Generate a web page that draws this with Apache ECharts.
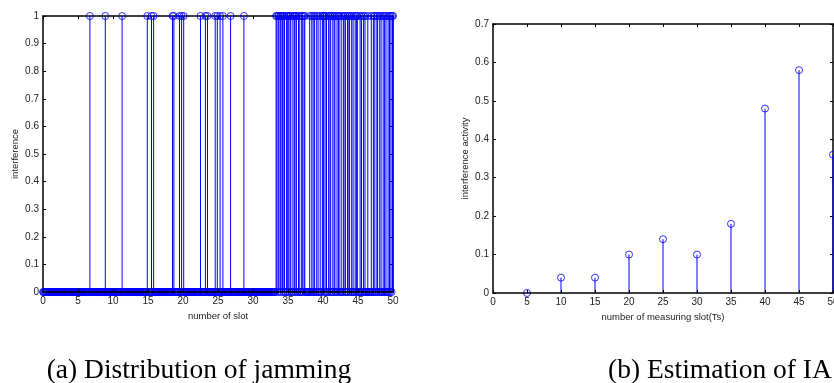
<!DOCTYPE html>
<html>
<head>
<meta charset="utf-8">
<script src="https://cdn.jsdelivr.net/npm/echarts@6/dist/echarts.min.js"></script>
<style>
  html, body { margin: 0; padding: 0; background: #fff; }
  #chart { width: 834px; height: 383px; }
</style>
</head>
<body>
<div id="chart"></div>
<script>
// (a) slots where jamming is present (value 1); every other slot on the 0.1 grid is 0
const jamSlots = [
  6.7, 8.9, 11.3, 14.9, 15.5, 15.8, 18.5, 18.7, 19.5, 19.8, 20.1, 22.5, 23.2, 23.5,
  24.6, 24.9, 25.3, 25.7, 26.8, 28.7,
  33.3, 33.4, 33.6, 33.7, 33.9, 34.0, 34.2, 34.3, 34.5, 34.8, 34.9, 35.1, 35.3, 35.4,
  35.7, 35.9, 36.0, 36.2, 36.5, 36.6, 36.9, 37.1, 37.3, 37.4, 38.1, 38.4, 38.6, 38.8,
  39.1, 39.3, 39.6, 39.9, 40.0, 40.1, 40.3, 40.5, 40.8, 41.0, 41.1, 41.4, 41.6, 41.7,
  42.0, 42.2, 42.3, 42.6, 42.9, 43.0, 43.2, 43.5, 43.7, 43.8, 44.1, 44.3, 44.6, 44.8,
  44.9, 45.3, 45.5, 45.8, 46.0, 46.4, 46.9, 47.2, 47.4, 47.7, 47.8, 48.1, 48.3, 48.6,
  48.8, 49.0, 49.3, 49.5, 49.7, 49.9, 50.0
]
const slotCount = 501 // slots 0.0 .. 50.0 in steps of 0.1

// (b) estimated interference activity per measuring slot
const measureSlots = [5, 10, 15, 20, 25, 30, 35, 40, 45, 50]
const activity = [0, 0.04, 0.04, 0.1, 0.14, 0.1, 0.18, 0.48, 0.58, 0.36]

const jamSet = new Set(jamSlots.map((s) => Math.round(s * 10)))
const slotData = []
for (let i = 0; i < slotCount; i++) {
  slotData.push([i / 10, jamSet.has(i) ? 1 : 0])
}
const activityData = measureSlots.map((s, i) => [s, activity[i]])

const BLUE = '#0000ff'
const tickFont = { color: '#222', fontSize: 10, fontFamily: 'Liberation Sans, Arial' }
const nameFont = { color: '#222', fontSize: 9.5, fontFamily: 'Liberation Sans, Arial' }

const lineStyle = { color: '#000', width: 1.5 }

function xAxes(gridIndex, name) {
  return [
    {
      type: 'value', gridIndex, min: 0, max: 50, interval: 5, position: 'bottom',
      name, nameLocation: 'middle', nameGap: 19, nameTextStyle: nameFont,
      axisLine: { onZero: false, lineStyle },
      axisTick: { inside: true, length: 3, lineStyle: { color: '#000' } },
      axisLabel: { ...tickFont, margin: 4 },
      splitLine: { show: false },
      z: 5,
    },
    {
      type: 'value', gridIndex, min: 0, max: 50, interval: 5, position: 'top',
      axisLine: { onZero: false, lineStyle },
      axisTick: { inside: true, length: 3, lineStyle: { color: '#000' } },
      axisLabel: { show: false },
      splitLine: { show: false },
    },
  ]
}

function yAxes(gridIndex, max, name) {
  return [
    {
      type: 'value', gridIndex, min: 0, max, interval: 0.1, position: 'left',
      name, nameLocation: 'middle', nameGap: 23, nameTextStyle: nameFont,
      axisLine: { onZero: false, lineStyle },
      axisTick: { inside: true, length: 3, lineStyle: { color: '#000' } },
      axisLabel: { ...tickFont, margin: 4 },
      splitLine: { show: false },
    },
    {
      type: 'value', gridIndex, min: 0, max, interval: 0.1, position: 'right',
      axisLine: { onZero: false, lineStyle },
      axisTick: { inside: true, length: 3, lineStyle: { color: '#000' } },
      axisLabel: { show: false },
      splitLine: { show: false },
    },
  ]
}

function stems(data, axisIndex) {
  return {
    type: 'custom',
    xAxisIndex: axisIndex,
    yAxisIndex: axisIndex,
    data: data.filter((d) => d[1] !== 0),
    silent: true,
    z: 1,
    renderItem: (params, api) => {
      const p0 = api.coord([api.value(0), 0])
      const p1 = api.coord([api.value(0), api.value(1)])
      return {
        type: 'line',
        shape: { x1: p0[0], y1: p0[1], x2: p1[0], y2: p1[1] },
        style: { stroke: BLUE, lineWidth: 1 },
      }
    },
  }
}

function markers(data, axisIndex) {
  return {
    type: 'scatter',
    xAxisIndex: axisIndex,
    yAxisIndex: axisIndex,
    data,
    symbol: 'circle',
    symbolSize: 7,
    silent: true,
    z: 2,
    itemStyle: { color: 'rgba(0,0,0,0)', borderColor: BLUE, borderWidth: 1 },
  }
}

const chart = echarts.init(document.getElementById('chart'))

chart.setOption({
  animation: false,
  backgroundColor: '#fff',
  grid: [
    { left: 43, top: 16, width: 350, height: 276, containLabel: false, outerBoundsMode: 'none' },
    { left: 493, top: 24, width: 340, height: 269, containLabel: false, outerBoundsMode: 'none' },
  ],
  xAxis: [...xAxes(0, 'number of slot'), ...xAxes(1, 'number of measuring slot(Ts)')],
  yAxis: [...yAxes(0, 1, 'interference'), ...yAxes(1, 0.7, 'interference activity')],
  series: [
    stems(slotData, 0),
    markers(slotData, 0),
    stems(activityData, 2),
    markers(activityData, 2),
  ],
  graphic: [
    {
      type: 'text', x: 199, y: 371,
      style: {
        text: '(a) Distribution of jamming', align: 'center', verticalAlign: 'middle',
        font: '27.5px "Liberation Serif", "Times New Roman", serif', fill: '#000',
      },
    },
    {
      type: 'text', x: 720, y: 371,
      style: {
        text: '(b) Estimation of IA', align: 'center', verticalAlign: 'middle',
        font: '27.5px "Liberation Serif", "Times New Roman", serif', fill: '#000',
      },
    },
  ],
})
</script>
</body>
</html>
